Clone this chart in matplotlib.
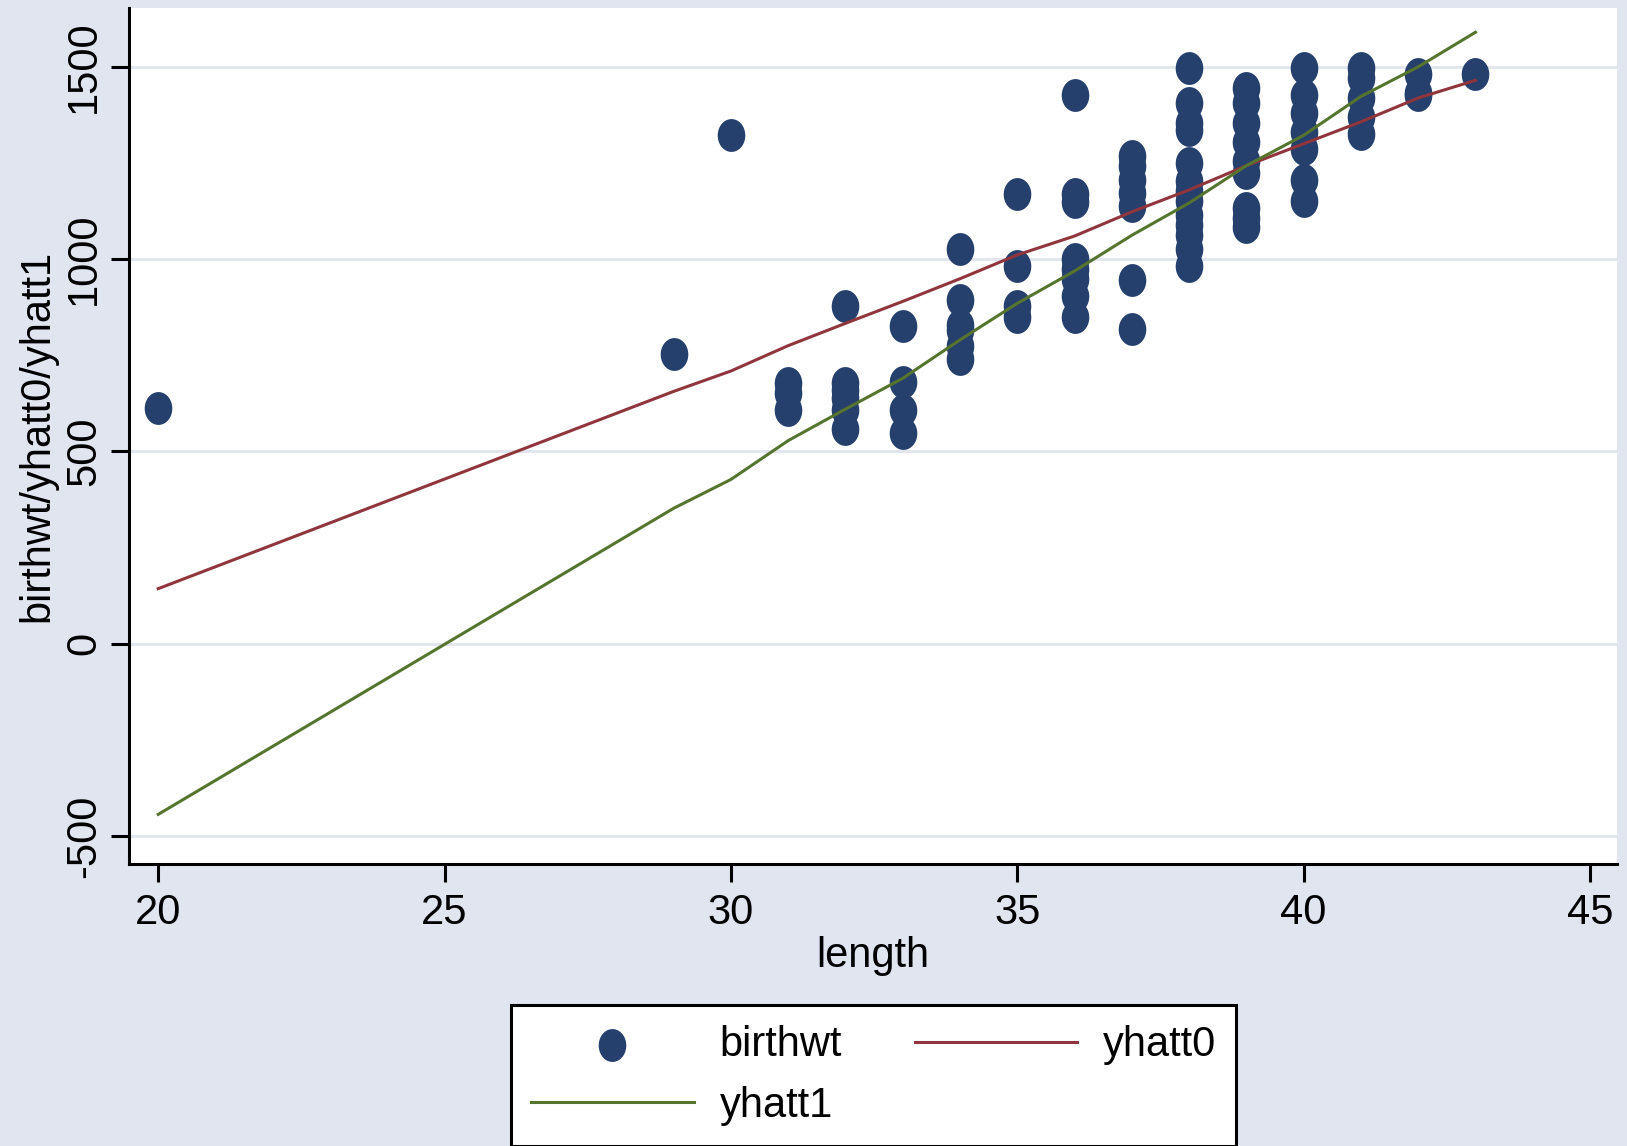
import numpy as np
import matplotlib.pyplot as plt
from matplotlib.path import Path

plt.rcParams['font.family'] = ['Liberation Sans', 'DejaVu Sans']
plt.rcParams['axes.unicode_minus'] = False

# scatter: birthwt vs length
length = ([20, 29, 30] + [31] * 3 + [32] * 6 + [33] * 4 + [34] * 6 + [35] * 4
          + [36] * 8 + [37] * 7 + [38] * 13 + [39] * 9 + [40] * 7 + [41] * 5
          + [42] * 3 + [43])
birthwt = [612, 753, 1323,
           678, 652, 608,
           877, 678, 660, 638, 608, 559,
           825, 681, 608, 548,
           1026, 894, 828, 815, 775, 740,
           1170, 982, 877, 850,
           1426, 1170, 1148, 1000, 974, 947, 903, 850,
           1269, 1243, 1207, 1172, 1137, 945, 819,
           1498, 1405, 1353, 1335, 1251, 1203, 1176, 1150, 1115, 1089, 1062, 1026, 982,
           1446, 1405, 1353, 1304, 1256, 1225, 1132, 1106, 1084,
           1498, 1428, 1379, 1331, 1287, 1207, 1150,
           1498, 1472, 1419, 1370, 1326,
           1481, 1433, 1428,
           1482]

# fitted lines
fit_len = [20, 29, 30, 31, 32, 33, 34, 35, 36, 37, 38, 39, 40, 41, 42, 43]
yhatt0 = [143, 656, 709, 775, 833, 890, 949, 1011, 1060, 1123, 1180, 1243, 1300, 1357, 1419, 1465]
yhatt1 = [-444, 352, 427, 528, 610, 690, 790, 885, 969, 1062, 1146, 1243, 1322, 1423, 1500, 1590]

bg = '#e0e5ef'
navy = '#26406e'
maroon = '#90353b'
green = '#55752f'
fs = 30

# slightly tall ellipse marker like the Stata output
t = np.linspace(0, 2 * np.pi, 60)
oval = Path(np.column_stack([0.84 * np.cos(t), np.sin(t)]))

fig = plt.figure(figsize=(16.27, 11.46), dpi=100, facecolor=bg)
ax = fig.add_axes([0.0793, 0.2461, 0.9145, 0.7469])
ax.set_facecolor('white')

sc = ax.scatter(length, birthwt, marker=oval, s=560, color=navy, linewidths=0, zorder=3)
l0, = ax.plot(fit_len, yhatt0, color=maroon, lw=2.2, zorder=4)
l1, = ax.plot(fit_len, yhatt1, color=green, lw=2.2, zorder=4)

ax.set_xlim(19.49, 45.47)
ax.set_ylim(-573, 1653)
ax.set_xticks([20, 25, 30, 35, 40, 45])
ax.set_yticks([-500, 0, 500, 1000, 1500])
ax.yaxis.grid(True, color='#e2e6ef', lw=2.2)
ax.set_axisbelow(True)

for s in ['top', 'right']:
    ax.spines[s].set_visible(False)
for s in ['left', 'bottom']:
    ax.spines[s].set_linewidth(2.2)

ax.tick_params(axis='both', direction='out', length=13, width=2.2, labelsize=fs)
ax.tick_params(axis='x', pad=8)
ax.tick_params(axis='y', pad=5)
for lab in ax.get_yticklabels():
    lab.set_rotation(90)
    lab.set_va('center')

ax.set_xlabel('length', fontsize=fs, labelpad=2)
ax.set_ylabel('birthwt/yhatt0/yhatt1', fontsize=fs)
ax.yaxis.set_label_coords(-0.048, 0.5)

leg = fig.legend([sc, l1, l0], ['birthwt', 'yhatt1', 'yhatt0'], ncol=2,
                 loc='lower center', bbox_to_anchor=(0.537, 0.0), fontsize=fs,
                 frameon=True, fancybox=False, edgecolor='black', facecolor='white',
                 handlelength=3.9, handletextpad=0.62, columnspacing=1.75,
                 borderpad=0.48, labelspacing=0.5, borderaxespad=0.0, scatterpoints=1)
leg.get_frame().set_linewidth(2.2)
leg.get_frame().set_alpha(None)

fig.savefig('out.png', dpi=100, facecolor=bg)
